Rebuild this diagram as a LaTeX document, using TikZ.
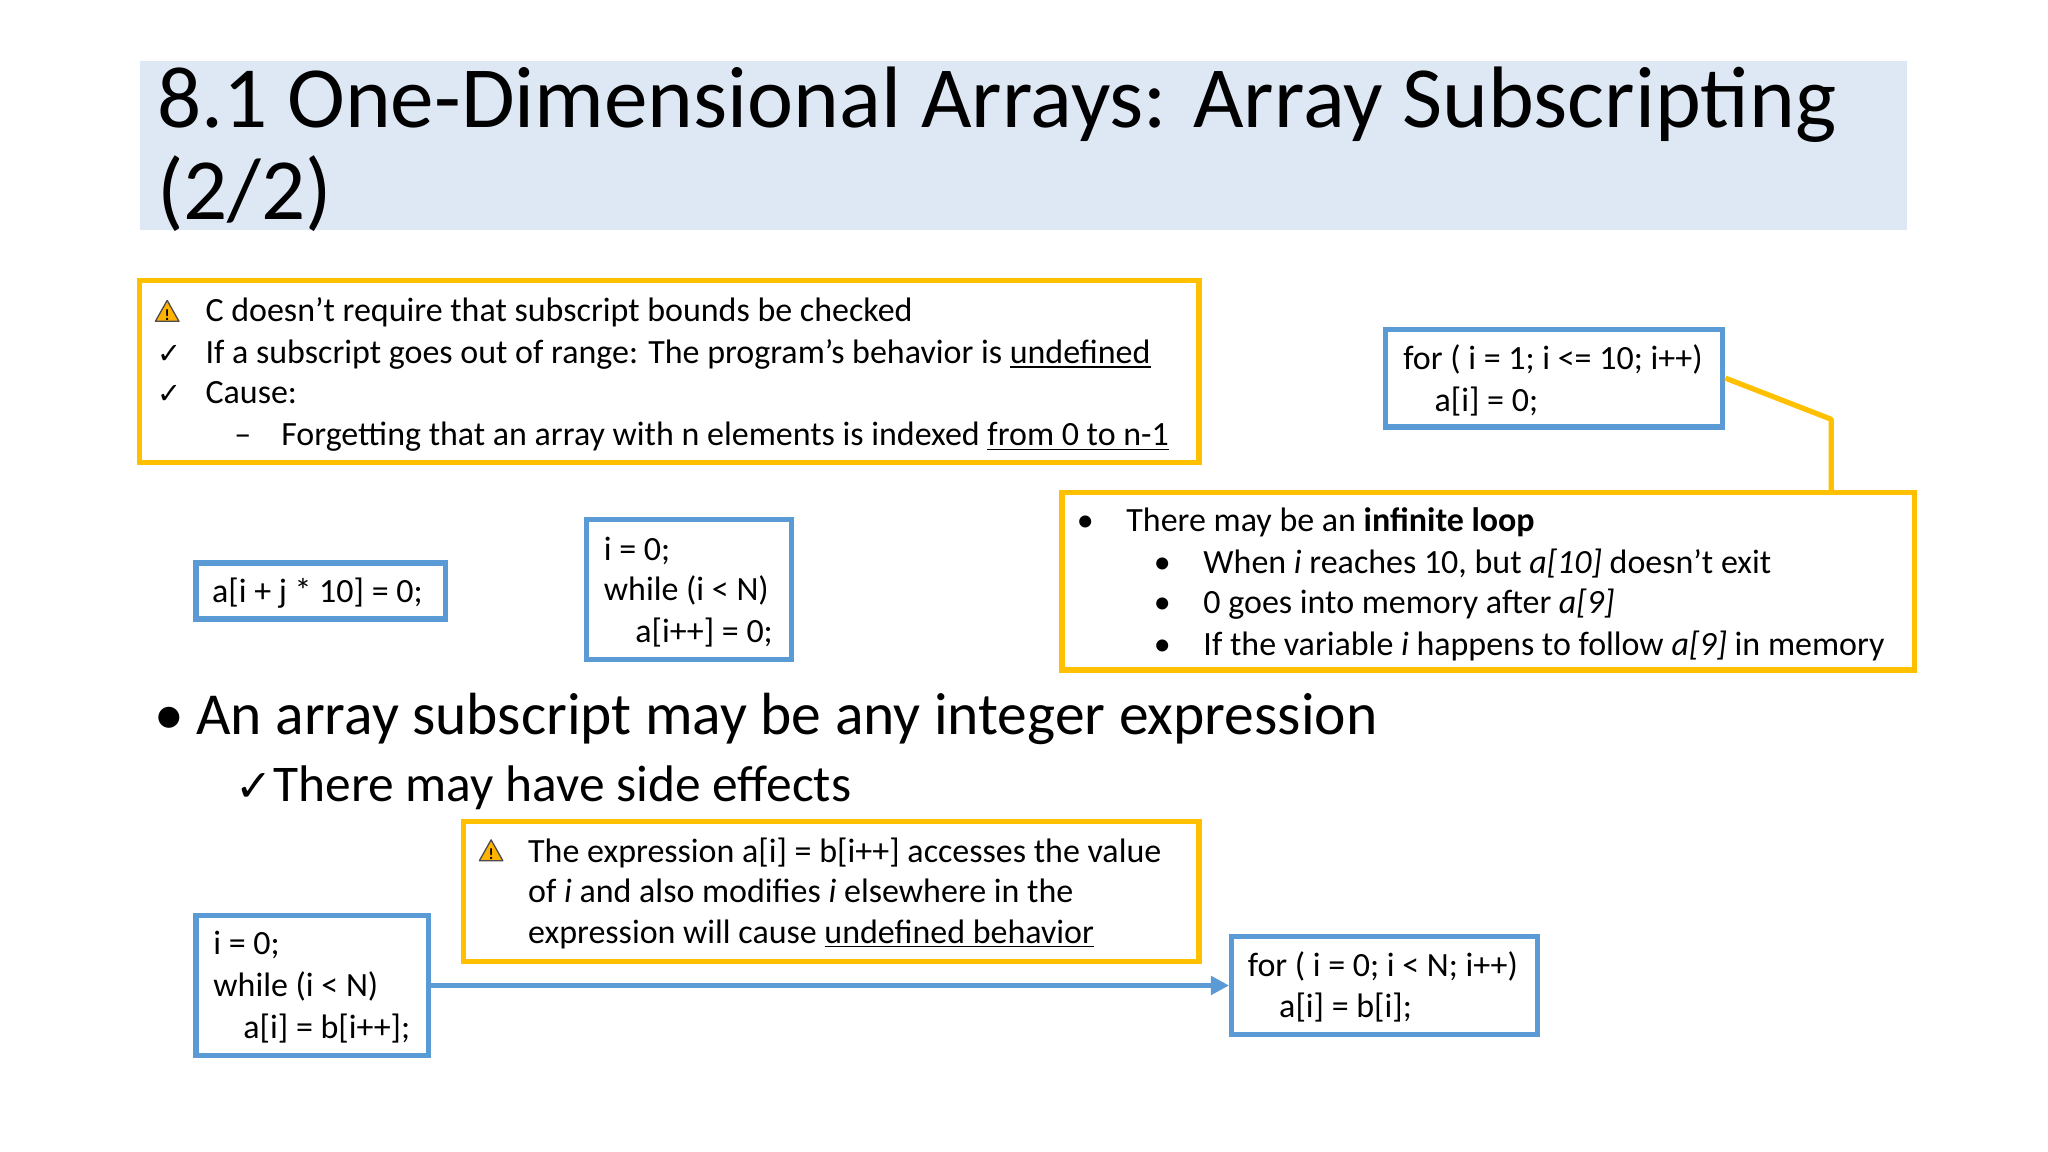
\documentclass[tikz,border=0pt]{standalone}
\usepackage{fontspec}
\setmainfont{Carlito}
\newfontfamily\dejavu{DejaVu Sans}
\usetikzlibrary{arrows.meta}
\definecolor{yel}{HTML}{FFC000}
\definecolor{blu}{HTML}{5B9BD5}
\definecolor{band}{HTML}{DEE8F5}
\tikzset{
  ybox/.style={draw=yel,line width=2pt,minimum width=#1,inner sep=0pt},
  bbox/.style={draw=blu,line width=2pt,inner sep=0pt},
  txt/.style={anchor=base west,inner sep=0pt,font=\fontsize{13}{15}\selectfont},
  big/.style={anchor=base west,inner sep=0pt,font=\fontsize{22.8}{25}\selectfont},
  mid/.style={anchor=base west,inner sep=0pt,font=\fontsize{19.7}{22}\selectfont},
  title/.style={anchor=base west,inner sep=0pt,font=\fontsize{33.4}{36}\selectfont},
  warn/.pic={\fill[yel!80!orange,draw=black!70,line width=0.5pt,line join=round] (-9,7) -- (9,7) -- (0,-9) -- cycle;
    \node[inner sep=0pt,font=\fontsize{6}{6}\selectfont\bfseries] at (0,2) {!};}
}
\begin{document}
\begin{tikzpicture}[x=0.5pt,y=-0.5pt]
\useasboundingbox (0,0) rectangle (1568,882);
\fill[white] (0,0) rectangle (1568,882);
\fill[band] (107,47) rectangle (1460,176);
\node[title] (t1) at (120,98) {8.1 One-Dimensional Arrays: Array Subscripting};
\node[title] (t2) at (120,168) {(2/2)};
% box 1
\node[ybox=405.5pt,minimum height=69.5pt] (b1) at (512.5,284.5) {};
\pic at (128,239) {warn};
\node[txt] (l1) at (157,246) {C doesn’t require that subscript bounds be checked};
\node[txt] (c1) at (120,278) {\dejavu\fontsize{11}{13}\selectfont ✓};
\node[txt] (l2) at (157,278) {If a subscript goes out of range: The program’s behavior is \underline{undefined}};
\node[txt] (c2) at (120,309) {\dejavu\fontsize{11}{13}\selectfont ✓};
\node[txt] (l3) at (157,309) {Cause:};
\node[txt] (d1) at (179,341) {–};
\node[txt] (l4) at (215,341) {Forgetting that an array with n elements is indexed \underline{from 0 to n-1}};
% for1
\node[bbox,minimum width=129pt,minimum height=37.5pt] (f1) at (1190,289.5) {};
\node[txt] (f1a) at (1074,283) {for ( i = 1; i <= 10; i++)};
\node[txt] (f1b) at (1098,315) {a[i] = 0;};
% box3
\node[ybox=326.5pt,minimum height=68pt] (b3) at (1139.5,445) {};
\node[txt] (s0) at (824,407) {•};
\node[txt] (s1) at (862,407) {There may be an \textbf{infinite loop}};
\node[txt] (s2b) at (883,439) {•};
\node[txt] (s2) at (921,439) {When \textit{i} reaches 10, but \textit{a[10]} doesn’t exit};
\node[txt] (s3b) at (883,470) {•};
\node[txt] (s3) at (921,470) {0 goes into memory after \textit{a[9]}};
\node[txt] (s4b) at (883,502) {•};
\node[txt] (s4) at (921,502) {If the variable \textit{i} happens to follow \textit{a[9]} in memory};
\coordinate (k1) at (1402,321);
\draw[yel,line width=2pt,line join=round] (f1.east) -- (k1) -- (k1 |- b3.north);
% aij
\node[bbox,minimum width=95.5pt,minimum height=21.5pt] (a1) at (245.5,452.5) {};
\node[txt] (a1t) at (162,461) {a[i + j * 10] = 0;};
% while1
\node[bbox,minimum width=78.5pt,minimum height=53.5pt] (w1) at (527.5,451.5) {};
\node[txt] (w1a) at (462,429) {i = 0;};
\node[txt] (w1b) at (462,460) {while (i < N)};
\node[txt] (w1c) at (486,492) {a[i++] = 0;};
% big bullets
\node[big] (bb) at (118,562) {•};
\node[big] (bt) at (150,562) {An array subscript may be any integer expression};
\node[mid] (ck) at (180,614) {\dejavu\fontsize{17}{20}\selectfont ✓};
\node[mid] (st) at (209,614) {There may have side effects};
% yellow 2
\node[ybox=281.5pt,minimum height=53.5pt] (b2) at (636.5,682.5) {};
\pic at (376,652) {warn};
\node[txt] (y1) at (404,660) {The expression a[i] = b[i++] accesses the value};
\node[txt] (y2) at (404,691) {of \textit{i} and also modifies \textit{i} elsewhere in the};
\node[txt] (y3) at (404,722) {expression will cause \underline{undefined behavior}};
% while2
\node[bbox,minimum width=89pt,minimum height=53.5pt] (w2) at (239,754.5) {};
\node[txt] (w2a) at (163,731) {i = 0;};
\node[txt] (w2b) at (163,763) {while (i < N)};
\node[txt] (w2c) at (186,795) {a[i] = b[i++];};
% for2
\node[bbox,minimum width=117pt,minimum height=37.5pt] (f2) at (1060,754.5) {};
\node[txt] (f2a) at (955,748) {for ( i = 0; i < N; i++)};
\node[txt] (f2b) at (979,779) {a[i] = b[i];};
\draw[blu,line width=2pt,-{Triangle[length=7pt,width=7pt]}] (w2.east) -- (f2.west);
\end{tikzpicture}
\end{document}
